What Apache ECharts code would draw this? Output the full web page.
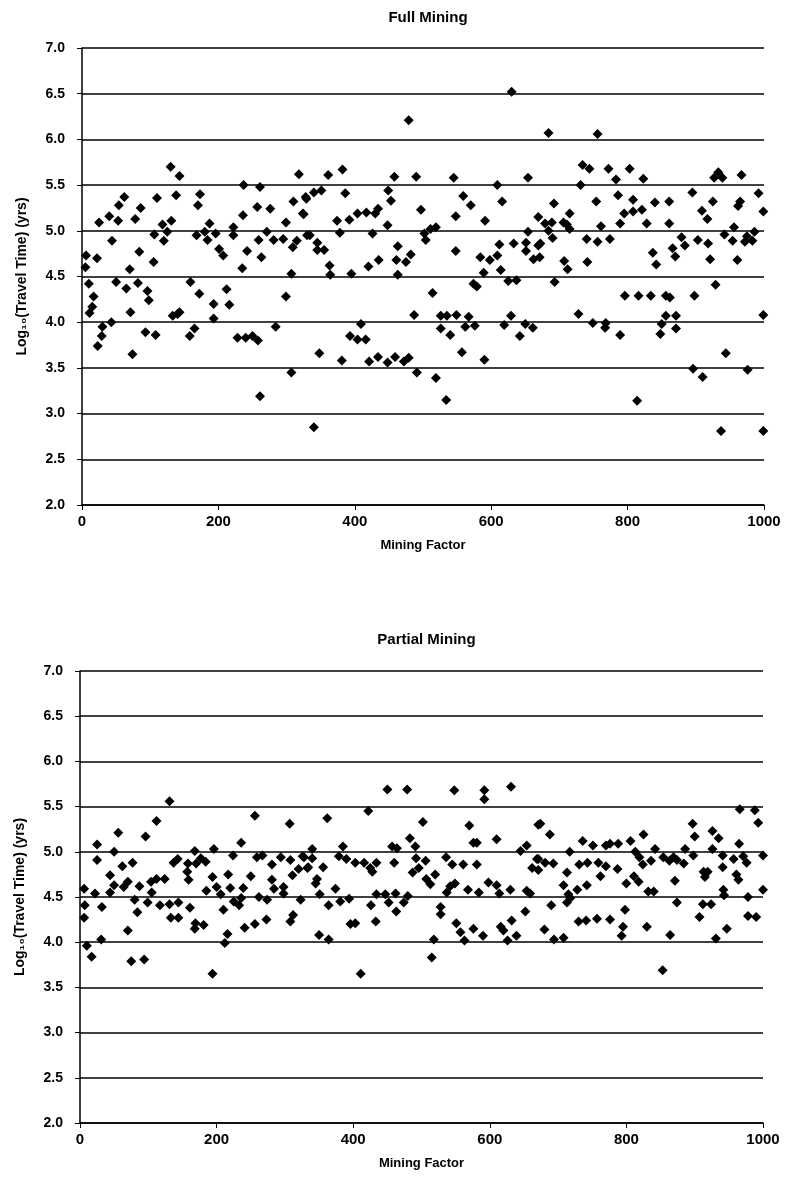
<!DOCTYPE html>
<html>
<head>
<meta charset="utf-8">
<script src="https://cdn.jsdelivr.net/npm/echarts@6/dist/echarts.min.js"></script>
<style>
  html, body { margin: 0; padding: 0; background: #fff; }
  #chart { width: 790px; height: 1202px; }
</style>
</head>
<body>
<div id="chart"></div>
<script>
// values: [mining factor, log10(travel time)]
var fullMining = [
  [6,4.73],[5,4.60],[22,4.70],[10,4.42],[17,4.28],[15,4.17],[11,4.10],[30,3.95],[29,3.85],[23,3.74],
  [25,5.09],[40,5.16],[53,5.11],[54,5.28],[62,5.37],[44,4.89],[43,4.00],[50,4.44],[65,4.37],[70,4.58],
  [71,4.11],[74,3.65],[78,5.13],[86,5.25],[84,4.77],[82,4.43],[96,4.34],[98,4.24],[93,3.89],[108,3.86],
  [105,4.66],[110,5.36],[106,4.96],[118,5.07],[120,4.89],[125,4.99],[131,5.11],[130,5.70],[143,5.60],[138,5.39],
  [133,4.07],[143,4.11],[140,4.09],[168,4.95],[170,5.28],[173,5.40],[159,4.44],[172,4.31],[158,3.85],[165,3.93],
  [180,4.99],[187,5.08],[184,4.90],[196,4.97],[201,4.80],[207,4.73],[193,4.20],[193,4.04],[212,4.36],[216,4.19],
  [222,5.04],[222,4.95],[236,5.17],[237,5.50],[242,4.78],[235,4.59],[228,3.83],[240,3.83],[250,3.85],[258,3.80],
  [261,5.48],[257,5.26],[259,4.90],[263,4.71],[276,5.24],[271,4.99],[281,4.90],[284,3.95],[261,3.19],[299,5.09],
  [295,4.91],[299,4.28],[307,4.53],[307,3.45],[309,4.82],[310,5.32],[318,5.62],[325,5.18],[329,5.35],[315,4.89],
  [330,4.95],
  [361,5.61],[382,5.67],[328,5.37],[340,5.42],[351,5.44],[386,5.41],[324,5.19],[334,4.95],[345,4.87],[345,4.79],
  [355,4.79],[363,4.62],[364,4.52],[395,4.53],[374,5.11],[378,4.98],[392,5.12],[404,5.19],[417,5.20],[430,5.19],
  [434,5.24],[426,4.97],[420,4.61],[435,4.68],[448,5.06],[449,5.44],[453,5.33],[458,5.59],[463,4.83],[461,4.68],
  [463,4.52],[475,4.66],[482,4.74],[490,5.59],[497,5.23],[502,4.97],[504,4.90],[511,5.02],[519,5.04],[514,4.32],
  [479,6.21],[487,4.08],[526,4.07],[535,4.07],[549,4.08],[567,4.06],[526,3.93],[540,3.86],[562,3.95],[576,3.96],
  [557,3.67],[590,3.59],[545,5.58],[559,5.38],[570,5.28],[548,5.16],[591,5.11],[548,4.78],[584,4.71],[598,4.68],
  [609,4.73],[612,4.85],[589,4.54],[614,4.57],[574,4.42],[579,4.39],[625,4.45],[637,4.46],[609,5.50],[616,5.32],
  [630,6.52],[654,5.58],[654,4.99],[633,4.86],[651,4.87],[651,4.78],[669,5.15],[662,4.69],[669,4.84],[629,4.07],
  [619,3.97],[642,3.85],[650,3.98],[661,3.94],[409,3.98],[393,3.85],[404,3.81],[416,3.81],[348,3.66],[381,3.58],
  [421,3.57],[434,3.62],[448,3.56],[459,3.62],[472,3.57],[479,3.61],[491,3.45],[519,3.39],[534,3.15],[340,2.85],
  [684,6.07],[756,6.06],[734,5.72],[744,5.68],[772,5.68],[803,5.68],[783,5.56],[823,5.57],[731,5.50],[933,5.64],
  [927,5.58],[939,5.58],[967,5.61],[895,5.42],[992,5.41],[692,5.30],[754,5.32],[786,5.39],[808,5.34],[840,5.31],
  [861,5.32],[925,5.32],[965,5.32],[962,5.27],[715,5.19],[706,5.09],[679,5.08],[689,5.09],[711,5.07],[684,5.00],
  [690,4.92],[715,5.02],[761,5.05],[789,5.08],[795,5.19],[808,5.21],[821,5.23],[828,5.08],[861,5.08],[909,5.22],
  [917,5.13],[999,5.21],[956,5.04],[942,4.96],[975,4.94],[986,4.99],[983,4.89],[972,4.88],[954,4.89],[672,4.86],
  [740,4.91],[756,4.88],[774,4.91],[879,4.93],[884,4.84],[903,4.90],[918,4.86],[866,4.81],[870,4.72],[837,4.76],
  [842,4.63],[671,4.71],[707,4.67],[712,4.58],[741,4.66],[921,4.69],[961,4.68],[693,4.44],[929,4.41],[796,4.29],
  [816,4.29],[834,4.29],[856,4.29],[862,4.27],[898,4.29],[728,4.09],[749,3.99],[768,3.99],[767,3.94],[789,3.86],
  [856,4.07],[871,4.07],[850,3.98],[871,3.93],[848,3.87],[999,4.08],[944,3.66],[896,3.49],[910,3.40],[976,3.48],
  [814,3.14],[937,2.81],[999,2.81]
];

var partialMining = [
  [131,5.56],[256,5.40],[307,5.31],[112,5.34],[56,5.21],[96,5.17],[25,5.08],[50,5.00],[25,4.91],[236,5.10],
  [196,5.03],[168,5.01],[224,4.96],[6,4.59],[7,4.41],[6,4.27],[22,4.54],[32,4.39],[10,3.96],[17,3.84],
  [31,4.03],[44,4.74],[44,4.55],[50,4.63],[62,4.84],[64,4.61],[70,4.67],[77,4.88],[80,4.47],[87,4.62],
  [84,4.33],[70,4.13],[75,3.79],[94,3.81],[99,4.44],[105,4.55],[104,4.67],[112,4.70],[124,4.70],[117,4.41],
  [131,4.42],[133,4.27],[144,4.27],[144,4.44],[137,4.88],[143,4.92],[157,4.78],[158,4.87],[159,4.69],[170,4.87],
  [184,4.89],[177,4.93],[161,4.38],[169,4.21],[168,4.15],[181,4.19],[185,4.57],[194,4.72],[200,4.61],[206,4.53],
  [210,4.36],[217,4.75],[220,4.60],[225,4.45],[233,4.41],[236,4.49],[239,4.60],[250,4.73],[241,4.16],[256,4.20],
  [262,4.50],[274,4.47],[273,4.25],[212,3.99],[216,4.09],[194,3.65],[259,4.94],[267,4.96],[281,4.86],[281,4.69],
  [294,4.94],[308,4.91],[284,4.59],[298,4.61],[298,4.54],[311,4.74],[320,4.81],[328,4.94],[334,4.83],[323,4.47],
  [312,4.30],[308,4.23],
  [450,5.69],[479,5.69],[548,5.68],[592,5.68],[592,5.58],[631,5.72],[422,5.45],[362,5.37],[502,5.33],[570,5.29],
  [671,5.30],[483,5.15],[491,5.06],[576,5.10],[581,5.10],[610,5.14],[654,5.07],[645,5.01],[385,5.06],[457,5.06],
  [464,5.04],[340,5.03],[326,4.95],[340,4.93],[379,4.95],[390,4.92],[403,4.88],[416,4.88],[425,4.82],[434,4.88],
  [428,4.78],[333,4.82],[356,4.83],[460,4.88],[492,4.93],[506,4.90],[487,4.77],[496,4.82],[536,4.94],[545,4.86],
  [561,4.86],[581,4.86],[662,4.82],[671,4.92],[347,4.70],[345,4.65],[374,4.59],[507,4.70],[513,4.64],[520,4.75],
  [537,4.55],[542,4.62],[549,4.65],[568,4.58],[584,4.55],[598,4.66],[610,4.63],[614,4.54],[630,4.58],[654,4.57],
  [659,4.54],[351,4.53],[364,4.41],[381,4.45],[394,4.48],[434,4.53],[447,4.53],[452,4.44],[462,4.54],[474,4.44],
  [480,4.51],[463,4.34],[426,4.41],[528,4.39],[528,4.31],[396,4.20],[403,4.21],[433,4.23],[652,4.34],[551,4.21],
  [557,4.11],[576,4.15],[590,4.07],[616,4.17],[620,4.13],[632,4.24],[639,4.07],[626,4.02],[350,4.08],[364,4.03],
  [518,4.03],[563,4.02],[515,3.83],[411,3.65],
  [966,5.47],[988,5.46],[993,5.32],[674,5.31],[688,5.19],[897,5.31],[900,5.17],[926,5.23],[935,5.15],[736,5.12],
  [751,5.07],[770,5.07],[776,5.09],[788,5.09],[806,5.12],[825,5.19],[965,5.09],[717,5.00],[813,5.00],[842,5.03],
  [886,5.03],[926,5.03],[898,4.96],[1000,4.96],[669,4.92],[681,4.88],[693,4.87],[731,4.86],[743,4.88],[759,4.88],
  [770,4.84],[787,4.81],[819,4.94],[824,4.86],[836,4.90],[854,4.94],[863,4.90],[869,4.94],[874,4.91],[884,4.87],
  [941,4.96],[941,4.83],[957,4.92],[971,4.95],[976,4.88],[671,4.80],[713,4.77],[762,4.73],[811,4.73],[818,4.67],
  [800,4.65],[871,4.68],[913,4.78],[915,4.72],[919,4.78],[961,4.75],[964,4.69],[708,4.63],[742,4.63],[728,4.58],
  [715,4.53],[718,4.49],[713,4.44],[832,4.56],[840,4.56],[942,4.58],[943,4.52],[1000,4.58],[978,4.50],[690,4.41],
  [874,4.44],[912,4.42],[924,4.42],[798,4.36],[907,4.28],[978,4.29],[990,4.28],[730,4.23],[741,4.24],[757,4.26],
  [776,4.25],[795,4.17],[830,4.17],[947,4.15],[680,4.14],[793,4.07],[864,4.08],[694,4.03],[708,4.05],[931,4.04],
  [853,3.69]
];

var chartTitles = ['Full Mining', 'Partial Mining'];
var xAxisName = 'Mining Factor';
var yAxisName = 'Log\u2081\u2080(Travel Time) (yrs)';
var xRange = [0, 1000], xStep = 200;
var yRange = [2, 7], yStep = 0.5;

var FONT = '"Liberation Sans", Arial, sans-serif';
var grids = [
  {left: 82, top: 48, width: 682, height: 457},
  {left: 80, top: 671, width: 683, height: 452}
];

function xAxisFor(i) {
  return {
    type: 'value', gridIndex: i, min: xRange[0], max: xRange[1], interval: xStep,
    name: xAxisName, nameLocation: 'middle', nameGap: 34,
    nameTextStyle: {fontFamily: FONT, fontWeight: 'bold', fontSize: 13, color: '#000'},
    axisLine: {lineStyle: {color: '#000', width: 1.5}},
    axisTick: {show: true, length: 5, lineStyle: {color: '#000', width: 1}},
    axisLabel: {
      fontFamily: FONT, fontWeight: 'bold', fontSize: 15, color: '#000', margin: 9,
      formatter: function (v) { return String(v); }
    },
    splitLine: {show: false}
  };
}

function yAxisFor(i) {
  return {
    type: 'value', gridIndex: i, min: yRange[0], max: yRange[1], interval: yStep,
    name: yAxisName, nameLocation: 'middle', nameGap: 53,
    nameTextStyle: {fontFamily: FONT, fontWeight: 'bold', fontSize: 14, color: '#000'},
    axisLine: {show: true, lineStyle: {color: '#000', width: 1.5}},
    axisTick: {show: true, length: 5, lineStyle: {color: '#000', width: 1}},
    axisLabel: {
      fontFamily: FONT, fontWeight: 'bold', fontSize: 14, color: '#000', margin: 17,
      formatter: function (v) { return v.toFixed(1); }
    },
    splitLine: {show: true, lineStyle: {color: '#000', width: 1.5}}
  };
}

var chart = echarts.init(document.getElementById('chart'), null, {renderer: 'canvas'});
chart.setOption({
  backgroundColor: '#fff',
  animation: false,
  title: chartTitles.map(function (t, i) {
    return {
      text: t, left: grids[i].left + grids[i].width / 2, textAlign: 'center',
      top: i === 0 ? 5 : 627,
      textStyle: {fontFamily: FONT, fontWeight: 'bold', fontSize: 15, color: '#000'}
    };
  }),
  grid: grids,
  xAxis: [xAxisFor(0), xAxisFor(1)],
  yAxis: [yAxisFor(0), yAxisFor(1)],
  series: [
    {type: 'scatter', xAxisIndex: 0, yAxisIndex: 0, data: fullMining,
     symbol: 'diamond', symbolSize: 10, itemStyle: {color: '#000', opacity: 1}},
    {type: 'scatter', xAxisIndex: 1, yAxisIndex: 1, data: partialMining,
     symbol: 'diamond', symbolSize: 10, itemStyle: {color: '#000', opacity: 1}}
  ]
});
</script>
</body>
</html>
